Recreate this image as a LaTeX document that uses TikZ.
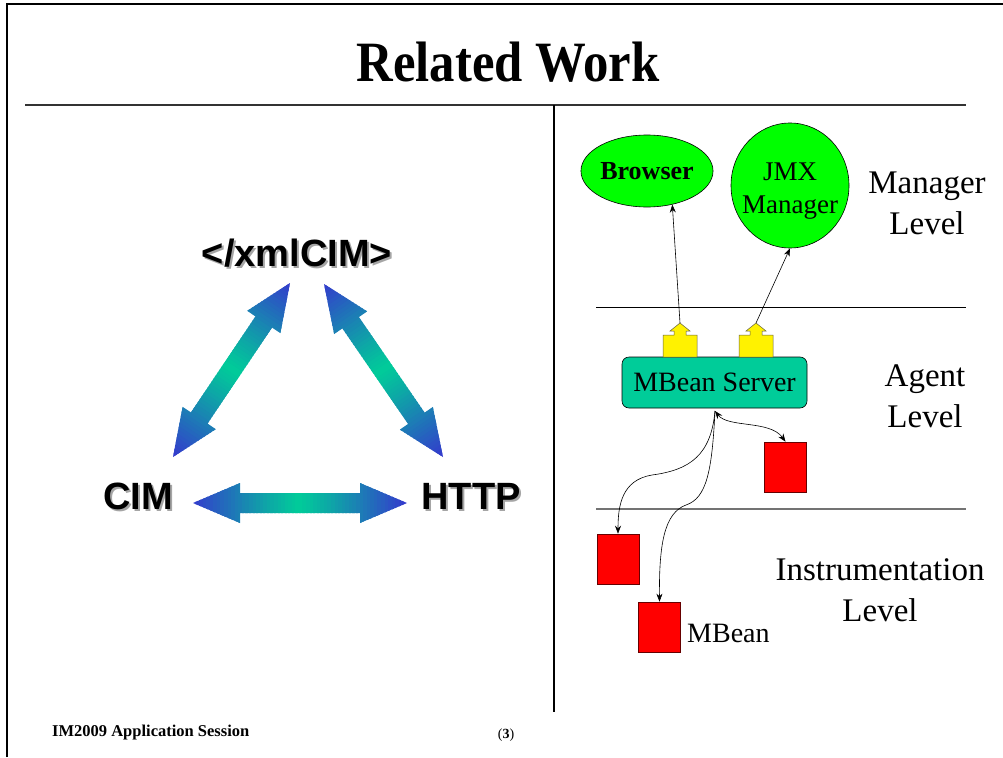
\documentclass[tikz,border=0pt]{standalone}
\usepackage{fontspec}
\setmainfont{Liberation Serif}
\newfontfamily\arialfont{Liberation Sans}
\usetikzlibrary{calc,arrows.meta,shapes.geometric}
\definecolor{ablue}{RGB}{52,58,205}
\definecolor{agreen}{RGB}{0,204,153}
\definecolor{srvgreen}{RGB}{0,204,153}
\definecolor{elgreen}{RGB}{0,255,0}
\definecolor{mbred}{RGB}{255,0,0}
\definecolor{shadowgray}{RGB}{165,165,165}
\newcommand{\shadowtext}[1]{\makebox[0pt][l]{\hspace{2pt}\raisebox{-2pt}{\textcolor{shadowgray}{#1}}}#1}
\newcommand{\gradarr}[2]{%
  \coordinate (#1h) at ($(#1)!47pt!(#2)$);
  \coordinate (#2h) at ($(#2)!47pt!(#1)$);
  \coordinate (#1pp) at ($(#1)!25pt!90:(#2)$);
  \coordinate (#1pm) at ($(#1)!25pt!-90:(#2)$);
  \begin{scope}
    \clip (#1) -- ($(#1h)!20pt!90:(#2)$) -- ($(#1h)!10pt!90:(#2)$)
      -- ($(#2h)!10pt!-90:(#1)$) -- ($(#2h)!20pt!-90:(#1)$) -- (#2)
      -- ($(#2h)!20pt!90:(#1)$) -- ($(#2h)!10pt!90:(#1)$)
      -- ($(#1h)!10pt!-90:(#2)$) -- ($(#1h)!20pt!-90:(#2)$) -- cycle;
    \foreach \i in {0,...,59}{%
      \pgfmathsetmacro{\ta}{(\i-0.3)/60}%
      \pgfmathsetmacro{\tb}{(\i+1.3)/60}%
      \pgfmathtruncatemacro{\pc}{round(100*(abs((\i+0.5)/60-0.5)*2)^1.1)}%
      \coordinate (ga) at ($(#1)!\ta!(#2)$);
      \coordinate (gb) at ($(#1)!\tb!(#2)$);
      \fill[ablue!\pc!agreen] ($(ga)+(#1pp)-(#1)$) -- ($(gb)+(#1pp)-(#1)$)
        -- ($(gb)+(#1pm)-(#1)$) -- ($(ga)+(#1pm)-(#1)$) -- cycle;
    }
  \end{scope}}
\tikzset{
  bigsans/.style={font=\arialfont\bfseries\fontsize{38}{44}\selectfont, inner sep=0pt},
  lvl/.style={font=\fontsize{33}{41}\selectfont, align=center, inner sep=0pt},
  ell/.style={ellipse, draw=black, fill=elgreen, inner sep=0pt, line width=0.6pt},
  mbean/.style={rectangle, draw=black!60!red, fill=mbred, minimum width=42pt, minimum height=50pt, inner sep=0pt, line width=0.6pt},
  thin/.style={line width=0.6pt},
  conn/.style={line width=0.6pt, -{Stealth[length=8pt,width=6pt]}},
  yarrow/.style={draw=black!70!yellow, fill=yellow, line width=0.5pt},
}
\begin{document}
\begin{tikzpicture}[x=1pt,y=-1pt]
\useasboundingbox (0,0) rectangle (1003,757);
% frame
\draw[line width=1.2pt] (7,757) -- (7,4) -- (1003,4);
\draw[line width=2pt, black!80] (25,105.5) -- (966,105.5);
\draw[line width=1.4pt] (554,105.5) -- (554,712);
% title
\node[font=\bfseries\fontsize{57}{60}\selectfont, inner sep=0pt] (title) at (508,62) {\scalebox{0.89}[1]{Related Work}};
% left part: texts with shadows
\node[bigsans] (xml) at (297,254) {\shadowtext{</xmlCIM>}};
\node[bigsans] (cim) at (138,497) {\shadowtext{CIM}};
\node[bigsans] (http) at (471,497) {\shadowtext{HTTP}};
% arrow end points
\coordinate (a1) at (290,283);
\coordinate (a2) at (173,457);
\coordinate (b1) at (324,284);
\coordinate (b2) at (443,457);
\coordinate (c1) at (193,503);
\coordinate (c2) at (407,503);
\gradarr{a1}{a2}
\gradarr{b1}{b2}
\gradarr{c1}{c2}
% right part: level lines
\draw[thin] (596,307) -- (966,307);
\draw[line width=1.2pt, black!55] (596,509) -- (966,509);
% level labels
\node[lvl] (ml) at (927,203) {Manager\\Level};
\node[lvl] (al) at (925,396) {Agent\\Level};
\node[lvl] (il) at (880,590) {Instrumentation\\Level};
% manager ellipses
\node[ell, minimum width=119pt, minimum height=72pt, font=\bfseries\fontsize{26}{30}\selectfont] (br) at (647,171) {Browser};
\node[ell, minimum width=118pt, minimum height=125pt] (jmx) at (790,185.5) {};
\node[font=\fontsize{27}{33}\selectfont, align=center, inner sep=0pt] (jmxt) at (790,191) {JMX\\Manager};
% mbean server
\node[draw=black, fill=srvgreen, rounded corners=7pt, minimum width=185pt, minimum height=51pt, inner sep=0pt, line width=0.6pt, font=\fontsize{28}{32}\selectfont] (srv) at (714.5,382.5) {MBean Server};
% yellow connector arrows
\draw[yarrow] (663,357) -- (663,335) -- (674,335) -- (674,331) -- (670,331) -- (680,323) -- (690,331) -- (686,331) -- (686,335) -- (697,335) -- (697,357) -- cycle;
\draw[yarrow] (739,357) -- (739,335) -- (750,335) -- (750,331) -- (746,331) -- (756,323) -- (766,331) -- (762,331) -- (762,335) -- (773,335) -- (773,357) -- cycle;
\coordinate (y1) at (680,323);
\coordinate (y2) at (756,323);
\draw[conn] (y1) -- (br.-53);
\draw[conn] (y2) -- (jmx.-90);
% mbeans
\node[mbean] (mA) at (785.5,467) {};
\node[mbean] (mB) at (618,559) {};
\node[mbean] (mC) at (659.5,627) {};
\node[font=\fontsize{28}{32}\selectfont, anchor=base west, inner sep=0pt] (mbl) at (687,642) {MBean};
\coordinate (hub) at (715,411);
\draw[line width=0.6pt, {Stealth[length=8pt,width=6pt]}-{Stealth[length=8pt,width=6pt]}] (hub) .. controls (728,428) and (770,420) .. (mA.north);
\draw[conn] (hub) .. controls (711,455) and (690,470) .. (652,475) .. controls (622,480) and (618,505) .. (mB.north);
\draw[conn] (hub) .. controls (712,470) and (707,498) .. (686,505) .. controls (664,513) and (659,545) .. (mC.north);
% footer
\node[font=\bfseries\fontsize{16.5}{18}\selectfont, anchor=base west, inner sep=0pt] (foot) at (52,736) {IM2009 Application Session};
\node[font=\fontsize{14}{15}\selectfont, inner sep=0pt] (page) at (506,735) {(\textbf{3})};
\end{tikzpicture}
\end{document}
